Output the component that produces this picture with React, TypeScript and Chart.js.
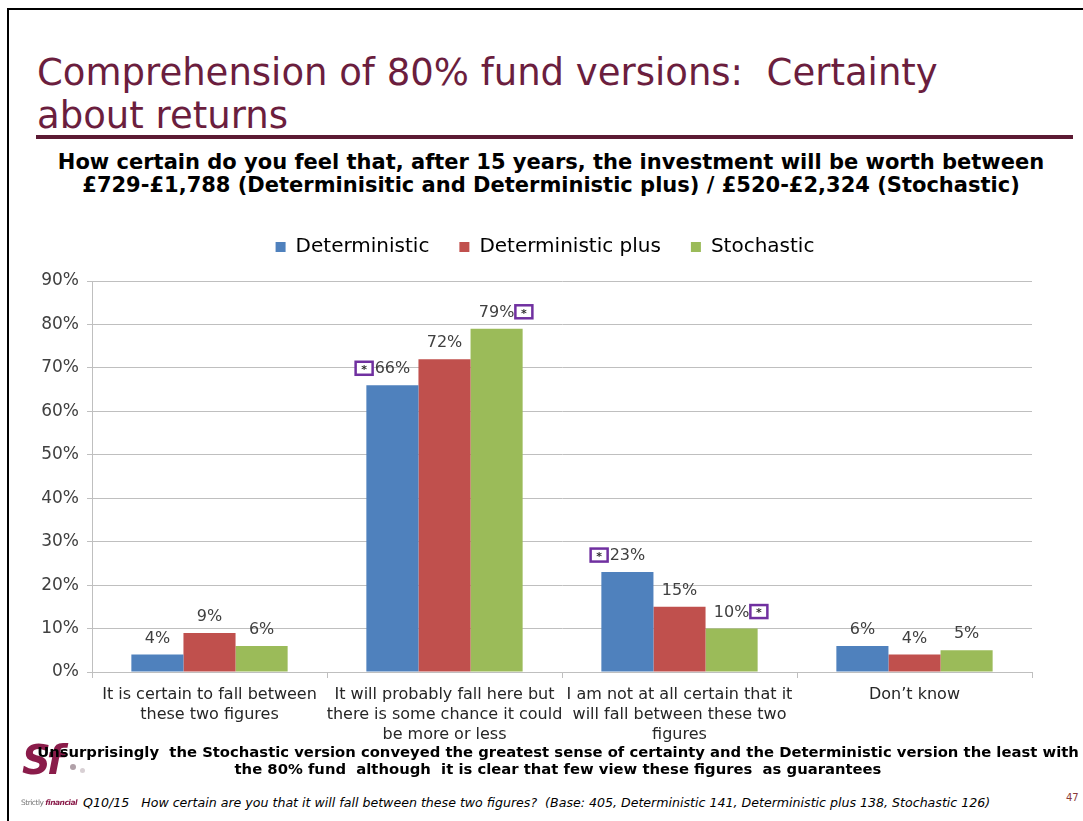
import React, { useEffect, useRef } from "react";
import { Chart, registerables } from "chart.js";

Chart.register(...registerables);

const FONT = "'DejaVu Sans', Verdana, sans-serif";

const categories: string[][] = [
  ["It is certain to fall between", "these two figures"],
  ["It will probably fall here but", "there is some chance it could", "be more or less"],
  ["I am not at all certain that it", "will fall between these two", "figures"],
  ["Don\u2019t know"],
];

const seriesNames = ["Deterministic", "Deterministic plus", "Stochastic"];
const seriesColors = ["#4f81bd", "#c0504d", "#9bbb59"];

const deterministic = [4, 66, 23, 6];
const deterministicPlus = [9, 72, 15, 4];
const stochastic = [6, 79, 10, 5];

// significance markers ("*" boxes) beside value labels
const deterministicMarks = ["", "left", "left", ""];
const deterministicPlusMarks = ["", "", "", ""];
const stochasticMarks = ["", "right", "right", ""];

const yMax = 90;
const yStep = 10;

const valueLabelPlugin = {
  id: "valueLabels",
  afterDatasetsDraw(chart: any) {
    const ctx = chart.ctx;
    ctx.save();
    ctx.font = `16px ${FONT}`;
    ctx.textAlign = "center";
    ctx.textBaseline = "middle";
    chart.data.datasets.forEach((ds: any, di: number) => {
      const meta = chart.getDatasetMeta(di);
      meta.data.forEach((bar: any, i: number) => {
        const text = ds.data[i] + "%";
        const cy = bar.y - 16;
        ctx.fillStyle = "#404040";
        ctx.fillText(text, bar.x, cy);
        const mark = ds.marks ? ds.marks[i] : "";
        if (mark) {
          const w = ctx.measureText(text).width;
          const bw = 17;
          const bh = 13;
          const bx = mark === "left" ? bar.x - w / 2 - 2 - bw : bar.x + w / 2 + 1;
          const by = cy - bh / 2 - 1;
          ctx.fillStyle = "#ffffff";
          ctx.fillRect(bx, by, bw, bh);
          ctx.strokeStyle = "#7030a0";
          ctx.lineWidth = 2.5;
          ctx.strokeRect(bx, by, bw, bh);
          ctx.fillStyle = "#303030";
          ctx.font = `bold 11px ${FONT}`;
          ctx.fillText("*", bx + bw / 2, by + bh / 2 + 2);
          ctx.font = `16px ${FONT}`;
        }
      });
    });
    ctx.restore();
  },
};

// adds space between the legend and the plot area, and centres it on the slide
const legendSpacingPlugin = {
  id: "legendSpacing",
  beforeInit(chart: any) {
    const legend = chart.legend;
    if (!legend) return;
    const origFit = legend.fit;
    legend.fit = function () {
      origFit.bind(legend)();
      this.height += 14;
    };
  },
  afterLayout(chart: any) {
    const legend = chart.legend;
    if (!legend) return;
    legend.left += 29;
    legend.right += 29;
  },
};

function BarChart() {
  const ref = useRef<HTMLCanvasElement | null>(null);
  useEffect(() => {
    if (!ref.current) return;
    const seriesData = [deterministic, deterministicPlus, stochastic];
    const seriesMarks = [deterministicMarks, deterministicPlusMarks, stochasticMarks];
    const chart = new Chart(ref.current, {
      type: "bar",
      data: {
        labels: categories,
        datasets: seriesNames.map((name, k) => ({
          label: name,
          data: seriesData[k],
          backgroundColor: seriesColors[k],
          borderWidth: 0,
          categoryPercentage: 0.665,
          barPercentage: 1.0,
          marks: seriesMarks[k],
        })) as any,
      },
      options: {
        animation: false,
        responsive: false,
        maintainAspectRatio: false,
        layout: { padding: { left: 0, right: 51, top: 4, bottom: 0 } },
        plugins: {
          legend: {
            position: "top",
            labels: {
              boxWidth: 10,
              boxHeight: 10,
              padding: 30,
              color: "#000000",
              font: { size: 20, family: FONT },
            },
          },
          tooltip: { enabled: false },
        },
        scales: {
          x: {
            grid: {
              drawOnChartArea: false,
              drawTicks: true,
              tickLength: 6,
              color: "#bfbfbf",
              offset: true,
            },
            border: { color: "#bfbfbf" },
            ticks: {
              color: "#262626",
              font: { size: 16, family: FONT, lineHeight: 1.25 },
              maxRotation: 0,
              autoSkip: false,
              padding: 7,
            },
            afterFit: (s: any) => {
              s.height = 73;
            },
          },
          y: {
            min: 0,
            max: yMax,
            ticks: {
              stepSize: yStep,
              callback: (v: any) => v + "%",
              color: "#404040",
              font: { size: 17, family: FONT },
              padding: 8,
            },
            grid: { color: "#bfbfbf", tickLength: 5 },
            border: { color: "#bfbfbf" },
            afterFit: (s: any) => {
              s.width = 92;
            },
          },
        },
      } as any,
      plugins: [legendSpacingPlugin, valueLabelPlugin],
    });
    return () => chart.destroy();
  }, []);
  return <canvas ref={ref} width={1083} height={542} style={{ display: "block" }} />;
}

export default function App() {
  return (
    <div
      style={{
        position: "absolute",
        left: 0,
        top: 0,
        width: 1083,
        height: 821,
        overflow: "hidden",
        background: "#ffffff",
        fontFamily: FONT,
      }}
    >
      <div
        style={{
          position: "absolute",
          left: 7,
          top: 8,
          width: 1200,
          height: 1000,
          border: "2px solid #000",
        }}
      />
      <div
        style={{
          position: "absolute",
          left: 37,
          top: 51,
          fontSize: 37,
          lineHeight: "43px",
          color: "#6b1e3e",
          whiteSpace: "nowrap",
        }}
      >
        Comprehension of 80% fund versions:&nbsp; Certainty
        <br />
        about returns
      </div>
      <div
        style={{
          position: "absolute",
          left: 36,
          top: 135,
          width: 1037,
          height: 4,
          background: "#5c1a33",
        }}
      />
      <div
        style={{
          position: "absolute",
          left: 0,
          width: 1102,
          top: 151,
          textAlign: "center",
          fontSize: 21,
          fontWeight: "bold",
          lineHeight: "23px",
          color: "#000",
          whiteSpace: "nowrap",
        }}
      >
        How certain do you feel that, after 15 years, the investment will be worth between
        <br />
        £729-£1,788 (Determinisitic and Deterministic plus) / £520-£2,324 (Stochastic)
      </div>
      <div style={{ position: "absolute", left: 0, top: 203 }}>
        <BarChart />
      </div>
      <div
        style={{
          position: "absolute",
          left: 22,
          top: 737,
          fontSize: 40,
          fontWeight: "bold",
          fontStyle: "italic",
          color: "#8a1c4a",
          letterSpacing: -4,
        }}
      >
        Sf
      </div>
      <div style={{ position: "absolute", left: 70, top: 764, width: 6, height: 6, borderRadius: 3, background: "#b0a0a8" }} />
      <div style={{ position: "absolute", left: 80, top: 768, width: 5, height: 5, borderRadius: 3, background: "#d8d0d4" }} />
      <div
        style={{
          position: "absolute",
          left: 0,
          width: 1116,
          top: 743,
          textAlign: "center",
          fontSize: 14.8,
          fontWeight: "bold",
          lineHeight: "17px",
          color: "#000",
          whiteSpace: "pre",
        }}
      >
        {"Unsurprisingly  the Stochastic version conveyed the greatest sense of certainty and the Deterministic version the least with\nthe 80% fund  although  it is clear that few view these figures  as guarantees"}
      </div>
      <div
        style={{
          position: "absolute",
          left: 21,
          top: 798,
          fontSize: 7.5,
          color: "#777",
          whiteSpace: "nowrap",
          letterSpacing: -0.5,
        }}
      >
        Strictly <span style={{ color: "#8a1c4a", fontStyle: "italic", fontWeight: "bold" }}>financial</span>
      </div>
      <div
        style={{
          position: "absolute",
          left: 83,
          top: 795,
          fontSize: 12.6,
          fontStyle: "italic",
          color: "#000",
          whiteSpace: "pre",
        }}
      >
        {"Q10/15   How certain are you that it will fall between these two figures?  (Base: 405, Deterministic 141, Deterministic plus 138, Stochastic 126)"}
      </div>
      <div style={{ position: "absolute", left: 1066, top: 792, fontSize: 10, color: "#8a3a3a" }}>47</div>
    </div>
  );
}
